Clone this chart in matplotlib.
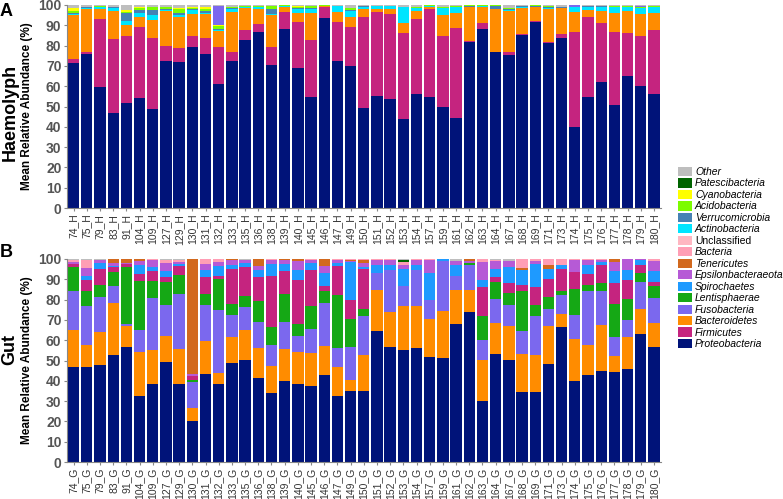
import numpy as np
import matplotlib
matplotlib.use('Agg')
import matplotlib.pyplot as plt
from matplotlib.patches import Patch

plt.rcParams['font.family'] = ['Liberation Sans', 'DejaVu Sans']

# Образцы
samples = ['74', '75', '79', '83', '91', '104', '109', '127', '129', '130',
           '131', '132', '133', '135', '136', '138', '139', '140', '145', '146',
           '147', '149', '150', '151', '152', '153', '154', '157', '159', '161',
           '162', '163', '164', '167', '168', '169', '171', '173', '174', '175',
           '176', '177', '178', '179', '180']

# Цвета филумов (порядок легенды сверху вниз)
legend_names = ['Other', 'Patescibacteria', 'Cyanobacteria', 'Acidobacteria',
                'Verrucomicrobia', 'Actinobacteria', 'Unclassified', 'Bacteria',
                'Tenericutes', 'Epsilonbacteraeota', 'Spirochaetes', 'Lentisphaerae',
                'Fusobacteria', 'Bacteroidetes', 'Firmicutes', 'Proteobacteria']
colors = {'Other': '#BEBEBE', 'Patescibacteria': '#006400', 'Cyanobacteria': '#FFFF00',
          'Acidobacteria': '#7CFC00', 'Verrucomicrobia': '#4682B4',
          'Actinobacteria': '#00E5FF', 'Unclassified': '#FFB6C1', 'Bacteria': '#FF9EB5',
          'Tenericutes': '#D2691E', 'Epsilonbacteraeota': '#B65AD6',
          'Spirochaetes': '#1E9AFF', 'Lentisphaerae': '#15A815',
          'Fusobacteria': '#7B68EE', 'Bacteroidetes': '#FF8C00',
          'Firmicutes': '#C5247F', 'Proteobacteria': '#001379'}

# Гемолимфа: верхние границы накопленных слоёв (%)
h_proteo = [71.3, 75.9, 59.4, 46.6, 51.6, 54.0, 48.6, 72.6, 72.1, 79.5,
            75.7, 61.1, 72.6, 82.8, 86.9, 70.6, 88.0, 68.8, 54.8, 93.4,
            72.6, 70.0, 49.1, 55.1, 53.5, 43.7, 56.2, 54.5, 49.9, 44.5,
            81.9, 88.0, 76.7, 75.4, 85.2, 91.8, 81.1, 83.9, 40.0, 54.5,
            61.9, 50.6, 65.0, 60.1, 56.0]
h_firm = [73.2, 77.0, 93.1, 83.1, 84.7, 89.0, 83.6, 79.8, 79.0, 84.9,
          83.9, 79.5, 77.0, 87.7, 90.6, 79.5, 96.7, 91.5, 82.8, 98.9,
          91.8, 89.0, 93.9, 96.7, 95.6, 86.0, 92.9, 97.9, 84.9, 88.5,
          82.4, 91.0, 77.0, 77.0, 85.5, 92.3, 81.6, 85.5, 86.5, 93.9,
          91.0, 86.9, 86.0, 84.7, 87.7]
h_bact = [95.1, 97.9, 97.9, 97.0, 90.1, 93.9, 92.6, 97.0, 94.3, 95.6,
          95.6, 87.4, 96.7, 98.4, 97.9, 95.1, 98.9, 95.9, 95.9, 99.5,
          96.7, 94.3, 97.9, 98.0, 98.0, 91.0, 97.2, 98.9, 95.1, 96.2,
          98.9, 98.9, 97.9, 97.0, 98.4, 98.9, 97.9, 98.4, 96.7, 97.5,
          97.0, 96.2, 97.0, 95.6, 95.9]
h_actino = [95.5, 98.4, 98.9, 98.4, 92.1, 96.2, 95.0, 97.6, 95.0, 97.5,
            96.3, 87.9, 97.8, 98.8, 98.9, 95.6, 99.3, 97.9, 97.9, 99.6,
            99.3, 97.2, 99.2, 99.3, 99.3, 98.8, 98.5, 99.5, 98.4, 98.9,
            99.2, 99.3, 98.2, 97.4, 98.9, 99.2, 98.4, 98.7, 98.9, 99.2,
            99.2, 98.9, 98.9, 98.4, 98.9]
h_verruco = [96.3, 98.8, 99.1, 98.8, 96.2, 97.5, 97.5, 98.2, 96.0, 97.9,
             96.9, 88.4, 98.3, 99.2, 99.2, 97.9, 99.5, 98.5, 98.3, 99.7,
             99.5, 97.6, 99.4, 99.5, 99.5, 98.9, 98.7, 99.7, 98.7, 99.1,
             99.6, 99.6, 99.6, 98.0, 99.3, 99.5, 98.8, 99.0, 99.0, 99.4,
             99.4, 99.1, 99.1, 98.7, 99.2]
h_acido = [97.2, 99.0, 99.3, 99.0, 96.7, 98.5, 98.8, 99.0, 97.8, 98.6,
           97.8, 89.8, 99.0, 99.4, 99.6, 99.6, 99.8, 99.2, 99.3, 99.8,
           99.7, 98.5, 99.6, 99.7, 99.7, 99.0, 99.0, 99.8, 99.0, 99.3,
           99.8, 99.8, 99.8, 98.4, 99.6, 99.8, 99.5, 99.2, 99.1, 99.5,
           99.6, 99.3, 99.3, 99.0, 99.4]
h_cyano = [98.5, 99.0, 99.3, 99.0, 97.5, 98.8, 99.0, 99.2, 98.5, 99.0,
           98.8, 90.0, 99.2, 99.4, 99.6, 99.6, 99.8, 99.3, 99.5, 99.8,
           99.7, 98.7, 99.6, 99.7, 99.7, 99.0, 99.0, 99.8, 99.0, 99.3,
           99.8, 99.8, 99.8, 98.4, 99.6, 99.8, 99.6, 99.2, 99.1, 99.5,
           99.6, 99.3, 99.3, 99.0, 99.4]
h_fuso = [98.5, 99.0, 99.3, 99.0, 97.5, 98.8, 99.0, 99.2, 98.5, 99.0,
          98.8, 99.6, 99.2, 99.4, 99.6, 99.6, 99.8, 99.3, 99.5, 99.8,
          99.7, 98.7, 99.6, 99.7, 99.7, 99.0, 99.0, 99.8, 99.0, 99.3,
          99.8, 99.8, 99.8, 98.4, 99.6, 99.8, 99.6, 99.2, 99.8, 99.5,
          99.6, 99.3, 99.3, 99.3, 99.4]

# Кишечник: верхние границы накопленных слоёв (%)
g_proteo = [46.6, 46.6, 48.0, 52.9, 56.6, 32.3, 38.5, 49.5, 38.2, 20.0,
            43.2, 38.3, 48.7, 50.1, 41.2, 34.0, 40.1, 38.4, 37.3, 43.0,
            32.3, 34.8, 35.1, 64.4, 56.7, 55.3, 56.3, 51.6, 51.1, 68.0,
            73.9, 30.2, 53.4, 50.1, 34.5, 34.3, 48.3, 66.3, 40.1, 42.9,
            45.0, 44.2, 46.0, 63.2, 56.5]
g_bact = [65.2, 57.8, 63.9, 78.3, 67.2, 54.0, 55.0, 62.0, 55.5, 26.5,
          59.5, 44.0, 61.8, 64.8, 56.3, 47.1, 55.8, 54.2, 53.7, 57.3,
          46.8, 40.6, 52.9, 84.9, 73.7, 76.7, 76.7, 70.6, 74.5, 84.9,
          84.9, 50.4, 68.5, 66.8, 53.4, 52.9, 67.2, 72.9, 60.8, 57.5,
          67.7, 52.1, 61.6, 75.4, 68.5]
g_fuso = [84.1, 76.7, 81.1, 86.9, 68.1, 64.9, 81.0, 77.5, 83.0, 39.5,
          77.5, 75.0, 72.3, 76.4, 69.0, 57.5, 68.8, 62.2, 65.5, 78.3,
          56.0, 56.7, 71.8, 93.1, 94.4, 86.5, 94.7, 80.0, 98.9, 91.8,
          97.2, 60.3, 80.5, 77.5, 64.4, 72.1, 75.4, 82.1, 72.6, 84.4,
          84.4, 61.6, 70.1, 88.5, 80.8]
g_lenti = [96.1, 84.1, 87.4, 93.4, 96.1, 89.0, 89.0, 88.5, 92.0, 40.5,
           83.0, 90.0, 77.8, 81.8, 79.4, 66.3, 82.9, 68.1, 76.7, 84.1,
           82.4, 70.4, 75.4, 93.1, 94.4, 86.5, 94.7, 80.0, 98.9, 91.8,
           98.0, 72.1, 88.5, 83.3, 84.1, 77.5, 81.1, 84.1, 85.4, 87.4,
           88.2, 78.0, 80.5, 93.1, 86.5]
g_firm = [97.4, 89.5, 95.2, 96.1, 97.4, 92.6, 94.0, 91.0, 96.5, 42.5,
          91.0, 91.5, 95.0, 96.2, 91.1, 91.5, 93.9, 89.8, 94.7, 86.5,
          96.4, 79.6, 95.1, 93.1, 94.4, 86.5, 94.7, 80.0, 98.9, 91.8,
          98.2, 86.2, 91.0, 88.2, 87.4, 86.0, 90.1, 95.1, 93.4, 92.8,
          97.2, 88.2, 89.8, 97.2, 88.7]
g_spiro = [97.5, 91.5, 98.0, 96.6, 97.4, 97.2, 96.0, 94.0, 97.5, 42.5,
           94.5, 96.5, 97.2, 98.0, 94.4, 97.7, 97.7, 94.4, 98.0, 93.1,
           98.0, 98.4, 96.1, 97.2, 96.9, 95.1, 97.2, 93.1, 100.0, 97.2,
           98.2, 89.8, 95.2, 96.1, 94.4, 97.5, 95.2, 97.2, 93.4, 97.2,
           98.5, 93.9, 94.7, 99.3, 93.9]
g_epsilon = [98.5, 95.6, 99.3, 98.0, 97.9, 98.9, 99.5, 98.0, 98.5, 43.5,
             97.5, 98.5, 99.3, 99.3, 96.7, 99.3, 99.3, 98.9, 99.3, 96.4,
             99.3, 98.9, 98.0, 99.7, 99.3, 97.2, 99.7, 99.3, 100.0, 98.9,
             98.8, 98.5, 98.9, 98.9, 94.4, 98.9, 95.2, 97.2, 99.7, 99.3,
             99.5, 98.5, 100.0, 99.8, 98.9]
g_teneri = [98.5, 95.6, 99.3, 100.0, 100.0, 100.0, 99.5, 98.0, 98.5, 100.0,
            97.5, 98.5, 100.0, 99.3, 100.0, 99.6, 99.8, 100.0, 99.5, 100.0,
            99.3, 99.3, 99.7, 99.7, 99.3, 97.2, 99.7, 99.3, 100.0, 98.9,
            99.8, 98.5, 98.9, 98.9, 95.6, 98.9, 97.2, 97.2, 99.7, 99.3,
            99.5, 100.0, 100.0, 99.8, 98.9]
g_bacteria = [99.3, 99.6, 99.6, 100.0, 100.0, 100.0, 99.8, 99.5, 99.3, 100.0,
              100.0, 100.0, 100.0, 99.7, 100.0, 99.8, 99.8, 100.0, 99.8, 100.0,
              99.8, 100.0, 100.0, 99.9, 100.0, 98.7, 99.9, 100.0, 100.0, 98.9,
              100.0, 100.0, 99.7, 98.9, 100.0, 99.8, 100.0, 100.0, 100.0, 99.8,
              100.0, 100.0, 100.0, 100.0, 100.0]
g_patesci = [99.3, 99.6, 99.6, 100.0, 100.0, 100.0, 99.8, 99.5, 99.3, 100.0,
             100.0, 100.0, 100.0, 99.7, 100.0, 99.8, 99.8, 100.0, 99.8, 100.0,
             99.8, 100.0, 100.0, 99.9, 100.0, 99.7, 99.9, 100.0, 100.0, 98.9,
             100.0, 100.0, 99.7, 98.9, 100.0, 99.8, 100.0, 100.0, 100.0, 99.8,
             100.0, 100.0, 100.0, 100.0, 100.0]

# Порядок слоёв снизу вверх (остаток до 100 -> Other)
haem_layers = [('Proteobacteria', h_proteo), ('Firmicutes', h_firm),
               ('Bacteroidetes', h_bact), ('Actinobacteria', h_actino),
               ('Verrucomicrobia', h_verruco), ('Acidobacteria', h_acido),
               ('Cyanobacteria', h_cyano), ('Fusobacteria', h_fuso)]
gut_layers = [('Proteobacteria', g_proteo), ('Bacteroidetes', g_bact),
              ('Fusobacteria', g_fuso), ('Lentisphaerae', g_lenti),
              ('Firmicutes', g_firm), ('Spirochaetes', g_spiro),
              ('Epsilonbacteraeota', g_epsilon), ('Tenericutes', g_teneri),
              ('Bacteria', g_bacteria), ('Patescibacteria', g_patesci)]


def draw_panel(ax, layers, suffix):
    x = np.arange(len(samples))
    prev = np.zeros(len(samples))
    for name, top in layers + [('Other', [100.0] * len(samples))]:
        top = np.array(top)
        ax.bar(x, top - prev, bottom=prev, width=0.86,
               color=colors[name], linewidth=0)
        prev = top
    ax.set_xlim(-0.5, len(samples) - 0.5)
    ax.set_ylim(0, 100)
    ax.set_yticks(range(0, 101, 10))
    ax.set_xticks(x)
    ax.set_xticklabels([s + '_' + suffix for s in samples], rotation=90,
                       fontsize=7.5, color='#333333')
    for lab in ax.get_yticklabels():
        lab.set_fontweight('bold')
        lab.set_color('#555555')
        lab.set_fontsize(10)
    ax.tick_params(axis='both', length=2.5, width=0.8, color='#888888', pad=1.5)
    for side in ['top', 'right']:
        ax.spines[side].set_visible(False)
    for side in ['left', 'bottom']:
        ax.spines[side].set_color('#888888')
        ax.spines[side].set_linewidth(0.8)
    ax.set_ylabel('Mean Relative Abundance (%)', fontsize=8.5, fontweight='bold',
                  labelpad=4)


fig = plt.figure(figsize=(7.83, 4.99), dpi=100)
ax1 = fig.add_axes([0.0856, 0.583, 0.758, 0.407])
ax2 = fig.add_axes([0.0856, 0.074, 0.758, 0.407])
draw_panel(ax1, haem_layers, 'H')
draw_panel(ax2, gut_layers, 'G')

fig.text(0.013, 0.775, 'Haemolyph', rotation=90, fontsize=13, fontweight='bold',
         ha='center', va='center')
fig.text(0.013, 0.30, 'Gut', rotation=90, fontsize=13, fontweight='bold',
         ha='center', va='center')
fig.text(0.0, 0.976, 'A', fontsize=13, fontweight='bold', va='center')
fig.text(0.0, 0.493, 'B', fontsize=13, fontweight='bold', va='center')

# Легенда
handles = [Patch(facecolor=colors[n], edgecolor='none') for n in legend_names]
leg = fig.legend(handles, legend_names, loc='center left',
                 bbox_to_anchor=(0.861, 0.483), frameon=False, fontsize=7.5,
                 handlelength=1.3, handleheight=1.0, handletextpad=0.3,
                 labelspacing=0.12, borderaxespad=0)
for t in leg.get_texts():
    if t.get_text() != 'Unclassified':
        t.set_fontstyle('italic')

fig.savefig('out.png', dpi=100)
